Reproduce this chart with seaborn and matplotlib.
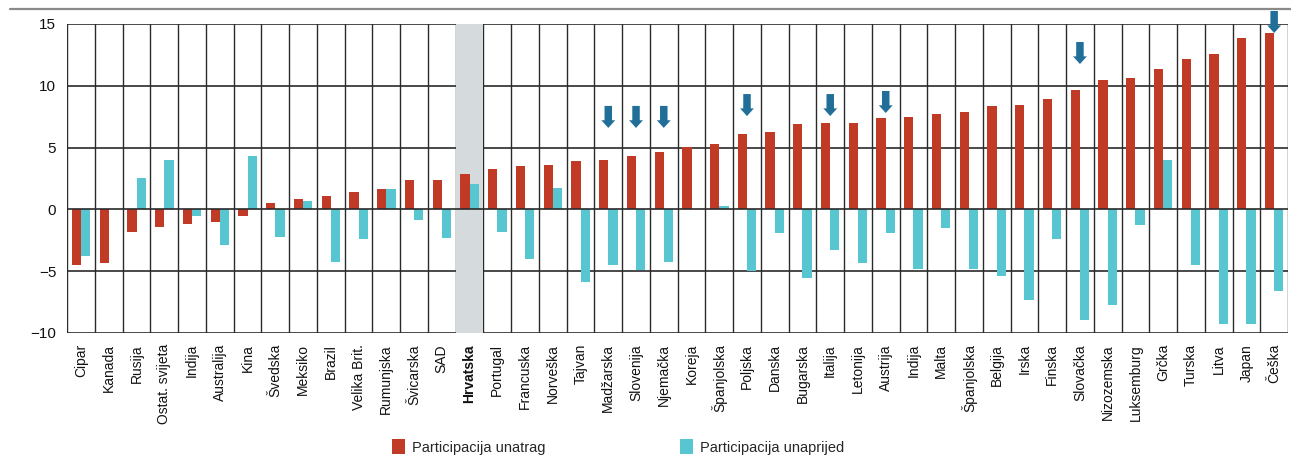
import matplotlib
matplotlib.use("Agg")
import matplotlib.pyplot as plt
from matplotlib.lines import Line2D
from matplotlib.patches import FancyArrow, Patch
import seaborn as sns
import pandas as pd
import numpy as np

# Countries, in plotted order
countries = [
    "Cipar", "Kanada", "Rusija", "Ostat. svijeta", "Indija", "Australija", "Kina",
    "Švedska", "Meksiko", "Brazil", "Velika Brit.", "Rumunjska", "Švicarska", "SAD",
    "Hrvatska", "Portugal", "Francuska", "Norveška", "Tajvan", "Madžarska",
    "Slovenija", "Njemačka", "Koreja", "Španjolska", "Poljska", "Danska", "Bugarska",
    "Italija", "Letonija", "Austrija", "Indija", "Malta", "Španjolska", "Belgija",
    "Irska", "Finska", "Slovačka", "Nizozemska", "Luksemburg", "Grčka", "Turska",
    "Litva", "Japan", "Češka",
]

# Backward participation (percentage-point change)
backward = [
    -4.5, -4.3, -1.86, -1.4, -1.19, -1.0, -0.51, 0.51, 0.84, 1.1, 1.38, 1.62, 2.35, 2.35,
    2.88, 3.23, 3.47, 3.63, 3.9, 4.0, 4.3, 4.68, 5.03, 5.27, 6.1, 6.27, 6.94,
    6.97, 7.02, 7.37, 7.45, 7.75, 7.88, 8.39, 8.47, 8.95, 9.68, 10.48, 10.62,
    11.37, 12.2, 12.58, 13.87, 14.28,
]

# Forward participation (percentage-point change)
forward = [
    -3.75, 0.05, 2.54, 4.0, -0.51, -2.86, 4.34, -2.27, 0.67, -4.23, -2.43, 1.62, -0.89, -2.32,
    2.02, -1.8, -3.98, 1.72, -5.85, -4.47, -4.87, -4.23, 0.0, 0.27, -5.0, -1.91, -5.57,
    -3.31, -4.36, -1.94, -4.79, -1.53, -4.79, -5.38, -7.37, -2.42, -8.95, -7.74, -1.29,
    4.03, -4.54, -9.3, -9.25, -6.64,
]

series_names = ["Participacija unatrag", "Participacija unaprijed"]
highlight = "Hrvatska"

# Marked countries and the level where each arrow points
arrow_countries = ["Madžarska", "Slovenija", "Njemačka", "Poljska", "Italija",
                   "Austrija", "Slovačka", "Češka"]
arrow_tips = [6.59, 6.59, 6.59, 7.55, 7.55, 7.8, 11.76, 14.27]

y_ticks = [-10, -5, 0, 5, 10, 15]

RED = "#c03a25"
CYAN = "#58c6d1"
ARROW = "#216f98"
GRID = "#2a2a2a"

n = len(countries)
df = pd.DataFrame({
    "pos": list(range(n)) * 2,
    "value": backward + forward,
    "series": [series_names[0]] * n + [series_names[1]] * n,
})

sns.set_theme(style="white")
plt.rcParams["font.family"] = ["Liberation Sans", "DejaVu Sans"]

fig = plt.figure(figsize=(12.91, 4.61), dpi=100)
ax = fig.add_axes([0.0521, 0.2777, 0.9456, 0.6703])

# Highlight band behind Croatia
hi = countries.index(highlight)
ax.axvspan(hi - 0.5, hi + 0.5, color="#d5dadd", zorder=0, lw=0)

sns.barplot(
    data=df, x="pos", y="value", hue="series", hue_order=series_names,
    palette=[RED, CYAN], saturation=1, width=0.667, dodge=True, ax=ax,
    legend=False, edgecolor="none", linewidth=0, zorder=3,
)
for p in ax.patches:
    p.set_zorder(3)

ax.set_xlim(-0.5, n - 0.5)
ax.set_ylim(-10, 15)

# Grid: cell boundaries and horizontal reference lines
for b in np.arange(-0.5, n, 1.0):
    ax.axvline(b, color=GRID, lw=1.0, zorder=2)
for t in y_ticks:
    ax.axhline(t, color=GRID, lw=1.2, zorder=4 if t == 0 else 2)

for s in ax.spines.values():
    s.set_visible(False)

ax.set_yticks(y_ticks)
ax.set_yticklabels([str(t).replace("-", "\u2212") for t in y_ticks], fontsize=11)
ax.set_xticks(range(n))
ax.set_xticklabels(countries, rotation=90, fontsize=10, va="top", ha="center")
ax.tick_params(axis="both", length=0)
ax.tick_params(axis="x", pad=8)
ax.tick_params(axis="y", pad=8)
for lbl in ax.get_xticklabels():
    lbl.set_color("#111111")
    if lbl.get_text() == highlight:
        lbl.set_fontweight("bold")
for lbl in ax.get_yticklabels():
    lbl.set_color("#111111")
ax.set_xlabel("")
ax.set_ylabel("")

# Downward arrows over marked countries
arrow_len = 1.78
for c, tip in zip(arrow_countries, arrow_tips):
    x = countries.index(c)
    ax.add_patch(FancyArrow(
        x, tip + arrow_len, 0, -arrow_len, width=0.27, head_width=0.5,
        head_length=0.62, length_includes_head=True, color=ARROW,
        lw=0, zorder=6, clip_on=False,
    ))

# Rule above the chart
fig.add_artist(Line2D([10 / 1291, 1.0], [1 - 9 / 461] * 2, color="#8a8a8a", lw=1.6))

# Legend entries below the chart
legend_y = 1 - 447 / 461
for color, name, x0 in [(RED, series_names[0], 392), (CYAN, series_names[1], 680)]:
    fig.legend([Patch(facecolor=color, edgecolor="none")], [name],
               loc="center left", bbox_to_anchor=(x0 / 1291, legend_y),
               frameon=False, fontsize=10.5, handlelength=0.9, handleheight=1.2,
               handletextpad=0.5, borderpad=0, borderaxespad=0)

fig.savefig("out.png", dpi=100)
